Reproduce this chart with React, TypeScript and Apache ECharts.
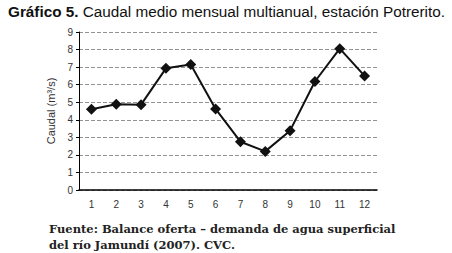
import React, { useEffect, useRef } from "react";
import * as echarts from "echarts";

const months = ["1", "2", "3", "4", "5", "6", "7", "8", "9", "10", "11", "12"];
const caudal = [4.6, 4.88, 4.86, 6.93, 7.15, 4.62, 2.75, 2.2, 3.38, 6.18, 8.05, 6.5];
const titleBold = "Gráfico 5.";
const titleRest = " Caudal medio mensual multianual, estación Potrerito.";
const yName = "Caudal (m³/s)";
const sourceLines = ["Fuente: Balance oferta – demanda de agua superficial", "del río Jamundí (2007). CVC."];

export default function App() {
  const ref = useRef<HTMLDivElement>(null);
  useEffect(() => {
    const chart = echarts.init(ref.current!, null, { renderer: "svg" });
    chart.setOption({
      animation: false,
      backgroundColor: "#ffffff",
      graphic: [
        {
          type: "text",
          left: 8,
          top: 4,
          style: {
            text: `{b|${titleBold}}{n|${titleRest}}`,
            rich: {
              b: { fontFamily: "Liberation Sans", fontWeight: "bold", fontSize: 15.3, fill: "#111" },
              n: { fontFamily: "Liberation Sans", fontSize: 15.3, fill: "#111" },
            },
          },
        },
        {
          type: "text",
          left: 49,
          top: 221,
          style: {
            text: sourceLines.join("\n"),
            fontFamily: "DejaVu Serif",
            fontWeight: "bold",
            fontSize: 11.5,
            lineHeight: 16,
            fill: "#222",
          },
        },
      ],
      grid: { left: 79, top: 32, width: 298, height: 158 },
      xAxis: {
        type: "category",
        data: months,
        boundaryGap: true,
        axisLine: { lineStyle: { color: "#000", width: 1.5 } },
        axisTick: { show: false },
        axisLabel: { color: "#333", fontSize: 10, fontFamily: "Liberation Sans", margin: 9 },
      },
      yAxis: {
        type: "value",
        min: 0,
        max: 9,
        interval: 1,
        name: yName,
        nameLocation: "middle",
        nameGap: 18,
        nameTextStyle: { color: "#333", fontSize: 11, fontFamily: "Liberation Sans" },
        axisLine: { show: true, lineStyle: { color: "#000", width: 1 } },
        axisTick: { show: true, length: 3, lineStyle: { color: "#000" } },
        axisLabel: { color: "#333", fontSize: 10, fontFamily: "Liberation Sans", margin: 6 },
        splitLine: { show: true, lineStyle: { color: "#777", type: [4, 2], width: 0.8 } },
      },
      series: [
        {
          type: "line",
          data: caudal,
          symbol: "diamond",
          symbolSize: 11,
          itemStyle: { color: "#111" },
          lineStyle: { color: "#111", width: 2 },
        },
      ],
    });
    return () => chart.dispose();
  }, []);
  return <div ref={ref} style={{ position: "fixed", left: 0, top: 0, width: 452, height: 253 }} />;
}
